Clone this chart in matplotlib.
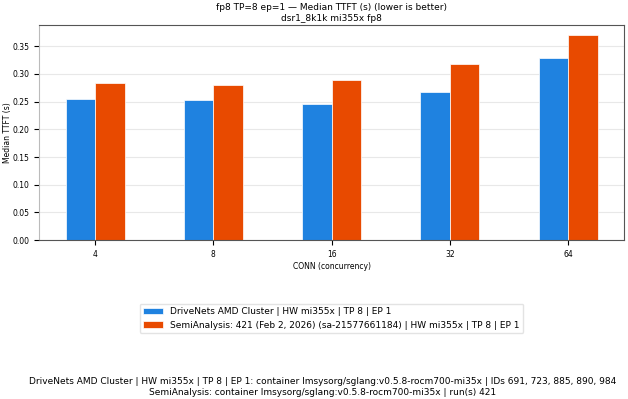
import matplotlib
matplotlib.use("Agg")
import numpy as np
import matplotlib.pyplot as plt

conns = ["4", "8", "16", "32", "64"]
drivenets = [0.255, 0.253, 0.246, 0.268, 0.329]
semianalysis = [0.283, 0.280, 0.288, 0.317, 0.370]

label_dn = "DriveNets AMD Cluster | HW mi355x | TP 8 | EP 1"
label_sa = "SemiAnalysis: 421 (Feb 2, 2026) (sa-21577661184) | HW mi355x | TP 8 | EP 1"
footer = ("DriveNets AMD Cluster | HW mi355x | TP 8 | EP 1: container lmsysorg/sglang:v0.5.8-rocm700-mi35x | IDs 691, 723, 885, 890, 984\n"
          "SemiAnalysis: container lmsysorg/sglang:v0.5.8-rocm700-mi35x | run(s) 421")

plt.rcParams["font.size"] = 5.5

fig = plt.figure(figsize=(6.28, 3.99), dpi=100)
ax = fig.add_axes([0.062, 0.398, 0.932, 0.54])

x = np.arange(len(conns))
w = 0.25
ax.bar(x - w / 2, drivenets, w, color="#1F82E0", edgecolor="white", linewidth=0.5, label=label_dn)
ax.bar(x + w / 2, semianalysis, w, color="#E84A00", edgecolor="white", linewidth=0.5, label=label_sa)

ax.set_xticks(x)
ax.set_xticklabels(conns)
ax.set_xlabel("CONN (concurrency)", labelpad=2)
ax.set_ylabel("Median TTFT (s)")
ax.yaxis.set_label_coords(-0.046, 0.5)
ax.set_title("fp8 TP=8 ep=1 — Median TTFT (s) (lower is better)\ndsr1_8k1k mi355x fp8", fontsize=6.5, pad=3)
ax.grid(axis="y", color="#e8e8e8", linewidth=0.8)
ax.set_axisbelow(True)
for s in ax.spines.values():
    s.set_color("#555555")
ax.spines["left"].set_color("#bbbbbb")

ax.legend(loc="center", bbox_to_anchor=(0.5, -0.363), fontsize=6.5, frameon=True,
          edgecolor="#dddddd", handlelength=2.2)

fig.text(0.514, 0.006, footer, ha="center", va="bottom", fontsize=6.5, linespacing=1.3)

fig.savefig("out.png", dpi=100)
